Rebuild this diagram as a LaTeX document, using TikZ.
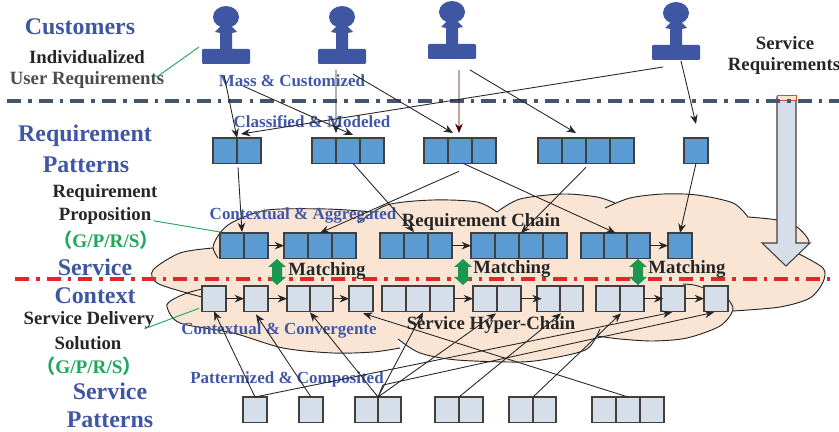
\documentclass[tikz,border=0pt]{standalone}
\usepackage{fontspec}
\setmainfont{Liberation Serif}
\newfontfamily\cjk{Noto Sans CJK SC}
\usepackage{xcolor}
\usetikzlibrary{arrows.meta,positioning}

\definecolor{titleblue}{HTML}{3F56A3}
\definecolor{phaseblue}{HTML}{4058A8}
\definecolor{labelgreen}{HTML}{1FA85A}
\definecolor{cloudfill}{HTML}{FAE5D5}
\definecolor{reqblue}{HTML}{5B9BD3}
\definecolor{svcgrey}{HTML}{D5DEE9}
\definecolor{slateline}{HTML}{44566E}
\definecolor{redline}{HTML}{E3262A}

\newcommand{\lobeA}{(218,258)(213,247)(220,233)(233,222)(267,210)(327,209)(373,212)}
\newcommand{\lobeB}{(358,223)(387,205)(433,200)(477,202)(497,212)}
\newcommand{\lobeC}{(497,212)(520,199)(563,194)(597,197)(615,203)}
\newcommand{\lobeD}{(605,208)(630,198)(663,194)(697,195)(733,203)(748,217)}
\newcommand{\lobeE}{(748,217)(777,220)(797,227)(809,242)(797,253)}
\newcommand{\lobeF}{(797,253)(823,268)(823,282)(810,298)(780,307)(733,311)}
\newcommand{\lobeG}{(728,299)(733,310)(720,326)(687,338)(653,341)(620,339)(597,336)}
\newcommand{\lobeH}{(600,329)(587,349)(553,358)(520,362)(457,360)(420,353)(398,339)}
\newcommand{\lobeI}{(400,348)(373,352)(333,353)(283,348)(233,333)(180,323)(167,307)(172,300)(187,293)(202,289)}
\newcommand{\lobeJ}{(202,297)(187,293)(157,283)(153,270)(180,253)(213,248)}

\begin{document}
\begin{tikzpicture}[
    x=0.03cm,
    y=-0.03cm,
    >={Stealth[length=8pt,width=6.5pt]},
    title/.style={font=\fontsize{20.4}{22}\selectfont\bfseries,text=titleblue,inner sep=0pt},
    bold/.style={font=\fontsize{16}{18}\selectfont\bfseries,text=black!85,inner sep=0pt},
    phase/.style={font=\fontsize{14.5}{16}\selectfont\bfseries,text=phaseblue,inner sep=0pt},
    gps/.style={font=\fontsize{16.4}{18}\selectfont\bfseries,text=labelgreen,inner sep=0pt},
    cell/.style={rectangle,draw=black!75,line width=0.9pt,minimum width=0.72cm,minimum height=0.76cm,inner sep=0pt,outer sep=0pt},
    req/.style={cell,fill=reqblue},
    svc/.style={cell,fill=svcgrey},
    narrow/.style={minimum width=0.69cm},
    link/.style={->,line width=0.75pt,black!85},
    leader/.style={line width=0.8pt,labelgreen},
    divider/.style={dash pattern=on 12pt off 6pt on 3pt off 6pt},
    lobe/.style={line width=0.8pt,black!85},
    matcharrow/.pic={
        \fill[labelgreen!90!black] (0,-13) -- (9,-5) -- (5,-5) -- (5,5) -- (9,5) -- (0,13) -- (-9,5) -- (-5,5) -- (-5,-5) -- (-9,-5) -- cycle;
    },
    customer/.pic={
        \fill[titleblue] (0,0) ellipse [x radius=0.39cm,y radius=0.33cm];
        \fill[titleblue] (-5,9) -- (-11,15) -- (-6,16) -- (-6,33) -- (6,33) -- (6,16) -- (11,15) -- (5,9) -- cycle;
        \fill[titleblue,rounded corners=1pt] (-24,32) rectangle (24,47);
    }
]
\useasboundingbox (0,0) rectangle (839,432);

% Cloud
\fill[cloudfill] plot[smooth] coordinates {\lobeA} -- plot[smooth] coordinates {\lobeB}
  -- plot[smooth] coordinates {\lobeC} -- plot[smooth] coordinates {\lobeD}
  -- plot[smooth] coordinates {\lobeE} -- plot[smooth] coordinates {\lobeF}
  -- plot[smooth] coordinates {\lobeG} -- plot[smooth] coordinates {\lobeH}
  -- plot[smooth] coordinates {\lobeI} -- plot[smooth] coordinates {\lobeJ} -- cycle;
\draw[lobe] plot[smooth] coordinates {\lobeA};
\draw[lobe] plot[smooth] coordinates {\lobeB};
\draw[lobe] plot[smooth] coordinates {\lobeC};
\draw[lobe] plot[smooth] coordinates {\lobeD};
\draw[lobe] plot[smooth] coordinates {\lobeE};
\draw[lobe] plot[smooth] coordinates {\lobeF};
\draw[lobe] plot[smooth] coordinates {\lobeG};
\draw[lobe] plot[smooth] coordinates {\lobeH};
\draw[lobe] plot[smooth] coordinates {\lobeI};
\draw[lobe] plot[smooth] coordinates {\lobeJ};
\draw[lobe] plot[smooth] coordinates {(683,284)(694,285)(704,288)};

% Service requirements arrow
\draw[draw=black!75,line width=0.9pt,fill=svcgrey] (777,97) -- (796,97) -- (796,243) -- (810,243)
  -- (786,266) -- (762,243) -- (777,243) -- cycle;
\draw[draw=red!40!brown,line width=0.7pt,fill=cloudfill] (777,95) rectangle (796,100);

% Dividers
\draw[divider,slateline,line width=2.8pt] (7,101) -- (839,101);
\draw[divider,redline,line width=3pt] (15,279) -- (837,279);

% Customers
\coordinate (cust1) at (226,17);
\coordinate (cust2) at (342,17);
\coordinate (cust3) at (452,12);
\coordinate (cust4) at (676,13);
\pic at (cust1) {customer};
\pic at (cust2) {customer};
\pic at (cust3) {customer};
\pic at (cust4) {customer};

% Requirement patterns
\node[req,anchor=north west] (r1a) at (213,138) {};
\node[req,right=0pt of r1a] (r1b) {};
\node[req,anchor=north west] (r2a) at (312,138) {};
\node[req,right=0pt of r2a] (r2b) {};
\node[req,right=0pt of r2b] (r2c) {};
\node[req,anchor=north west] (r3a) at (424,138) {};
\node[req,right=0pt of r3a] (r3b) {};
\node[req,right=0pt of r3b] (r3c) {};
\node[req,anchor=north west] (r4a) at (538,138) {};
\node[req,right=0pt of r4a] (r4b) {};
\node[req,right=0pt of r4b] (r4c) {};
\node[req,right=0pt of r4c] (r4d) {};
\node[req,anchor=north west] (r5a) at (684,138) {};

% Requirement chain
\node[req,anchor=north west] (c1a) at (220,233) {};
\node[req,right=0pt of c1a] (c1b) {};
\node[req,anchor=north west] (c2a) at (284,233) {};
\node[req,right=0pt of c2a] (c2b) {};
\node[req,right=0pt of c2b] (c2c) {};
\node[req,anchor=north west] (c3a) at (380,233) {};
\node[req,right=0pt of c3a] (c3b) {};
\node[req,right=0pt of c3b] (c3c) {};
\node[req,anchor=north west] (c4a) at (471,233) {};
\node[req,right=0pt of c4a] (c4b) {};
\node[req,right=0pt of c4b] (c4c) {};
\node[req,right=0pt of c4c] (c4d) {};
\node[req,narrow,anchor=north west] (c5a) at (581,233) {};
\node[req,narrow,right=0pt of c5a] (c5b) {};
\node[req,narrow,right=0pt of c5b] (c5c) {};
\node[req,anchor=north west] (c6a) at (668,233) {};

% Service hyper-chain
\node[svc,anchor=north west] (h1a) at (202,286) {};
\node[svc,anchor=north west] (h2a) at (244,286) {};
\node[svc,narrow,anchor=north west] (h3a) at (287,286) {};
\node[svc,narrow,right=0pt of h3a] (h3b) {};
\node[svc,anchor=north west] (h4a) at (349,286) {};
\node[svc,anchor=north west] (h5a) at (382,286) {};
\node[svc,right=0pt of h5a] (h5b) {};
\node[svc,right=0pt of h5b] (h5c) {};
\node[svc,anchor=north west] (h6a) at (473,286) {};
\node[svc,right=0pt of h6a] (h6b) {};
\node[svc,narrow,anchor=north west] (h7a) at (537,286) {};
\node[svc,narrow,right=0pt of h7a] (h7b) {};
\node[svc,anchor=north west] (h8a) at (596,286) {};
\node[svc,right=0pt of h8a] (h8b) {};
\node[svc,anchor=north west] (h9a) at (661,286) {};
\node[svc,anchor=north west] (h10a) at (704,286) {};

% Service patterns
\node[svc,anchor=north west] (p1a) at (243,397) {};
\node[svc,anchor=north west] (p2a) at (299,397) {};
\node[svc,narrow,anchor=north west] (p3a) at (355,397) {};
\node[svc,narrow,right=0pt of p3a] (p3b) {};
\node[svc,anchor=north west] (p4a) at (435,397) {};
\node[svc,right=0pt of p4a] (p4b) {};
\node[svc,anchor=north west] (p5a) at (509,397) {};
\node[svc,narrow,right=0pt of p5a] (p5b) {};
\node[svc,anchor=north west] (p6a) at (592,397) {};
\node[svc,right=0pt of p6a] (p6b) {};
\node[svc,right=0pt of p6b] (p6c) {};

% Matching
\pic at (277,272) {matcharrow};
\pic at (463,272) {matcharrow};
\pic at (638,272) {matcharrow};

% Left column labels
\node[title] (custlabel) at (80,27) {Customers};
\node[bold] (indlabel) at (87,57) {Individualized};
\node[bold,text=black!70] (userlabel) at (87,80) {User Requirements};
\node[title] (reqlabel) at (85,136) {Requirement};
\node[title] (patlabel) at (86,165) {Patterns};
\node[bold] (proplabel) at (105,193) {Requirement};
\node[bold] (proplabelb) at (105,216) {Proposition};
\node[gps] (gpsup) at (106,240) {{\cjk（}G/P/R/S{\cjk）}};
\node[title] (ctxlabel) at (95,267) {Service};
\node[title] (ctxlabelb) at (95,296) {Context};
\node[bold] (dellabel) at (89,320) {Service Delivery};
\node[bold] (dellabelb) at (88,343) {Solution};
\node[gps] (gpsdown) at (89,366) {{\cjk（}G/P/R/S{\cjk）}};
\node[title] (svclabel) at (110,391) {Service};
\node[title] (svclabelb) at (110,420) {Patterns};
\node[bold] (srvreq) at (785,43) {Service};
\node[bold] (srvreqb) at (784,66) {Requirements};

% Phases
\node[phase] (massphase) at (292,81) {Mass \& Customized};
\node[phase] (classphase) at (312,122) {Classified \& Modeled};
\node[phase] (aggphase) at (303,215) {Contextual \& Aggregated};
\node[phase] (convphase) at (279,330) {Contextual \& Convergente};
\node[phase] (compphase) at (287,379) {Patternized \& Composited};
\node[bold] (reqchain) at (481,222) {Requirement Chain};
\node[bold] (hyperchain) at (491,325) {Service Hyper-Chain};
\node[bold] (matchlabela) at (327,271) {Matching};
\node[bold] (matchlabelb) at (512,269) {Matching};
\node[bold] (matchlabelc) at (687,269) {Matching};

% Leaders
\draw[leader] ([shift={(-8,6)}]userlabel.north east) -- ([shift={(-27,30)}]cust1);
\draw[leader] ([shift={(2,-4)}]proplabelb.south east) -- ([shift={(0,-1)}]c1a.north west);
\draw[leader] ([shift={(-10,0)}]dellabel.south east) -- ([shift={(-3,-3)}]h1a.south west);

% Customers to requirement patterns
\draw[link] ([shift={(-2,58)}]cust1) -- (r1b.north west);
\draw[link] ([shift={(17,69)}]cust1) -- ([shift={(-7,-3)}]r2b.north east);
\draw[link] ([shift={(-6,53)}]cust2) -- ([shift={(0,-5)}]r2b.north west);
\draw[link] ([shift={(11,57)}]cust2) -- ([shift={(5,-5)}]r3b.north west);
\draw[link,red!30!black] ([shift={(7,58)}]cust3) -- ([shift={(-1,-5)}]r3b.north);
\draw[link] ([shift={(18,58)}]cust3) -- ([shift={(2,-5)}]r4b.north);
\draw[link] ([shift={(-13,54)}]cust4) -- ([shift={(4,-4)}]r1b.north west);
\draw[link] ([shift={(5,48)}]cust4) -- ([shift={(0,-14)}]r5a.north);

% Requirement patterns to chain
\draw[link] ([shift={(1,4)}]r1b.south west) -- ([shift={(-2,-1)}]c1b.north west);
\draw[link] ([shift={(-7,0)}]r2b.south east) -- ([shift={(-2,-1)}]c3b.north);
\draw[link] ([shift={(-1,8)}]r3b.south) -- (c2b.north);
\draw[link] ([shift={(3,0)}]r3b.south) -- (c5b.north);
\draw[link] ([shift={(0,4)}]r4c.south west) -- ([shift={(2,0)}]c4c.north west);
\draw[link] (r5a.south) -- (c6a.north);

% Chain
\draw[link] (c1b.east) -- (c2a.west);
\draw[link] (c3c.east) -- (c4a.west);
\draw[link] (c5c.east) -- (c6a.west);

% Hyper-chain
\draw[link] (h1a.east) -- (h2a.west);
\draw[link] (h2a.east) -- (h3a.west);
\draw[link] (h3b.east) -- (h4a.west);
\draw[link] (h5c.east) -- (h6a.west);
\draw[link] (h6b.east) -- ([xshift=4pt]h7a.west);
\draw[link] (h8b.east) -- ([xshift=2pt]h9a.west);
\draw[link] (h9a.east) -- (h10a.west);

% Service patterns to hyper-chain
\draw[link] (p1a.north) -- (h1a.south);
\draw[link] (p1a.north) -- ([shift={(-1,1)}]h9a.south);
\draw[link] (p2a.north) -- ([shift={(0,3)}]h2a.south);
\draw[link] (p3a.north east) -- ([shift={(0,1)}]h3a.south east);
\draw[link] (p3a.north east) -- ([shift={(-7,1)}]h5b.south east);
\draw[link] (p3a.north east) -- ([shift={(-1,2)}]h6a.south east);
\draw[link] (p3a.north east) -- (383,385) -- ([shift={(-2,1)}]h10a.south);
\draw[link] (p4a.north east) -- ([shift={(1,2)}]h7a.south east);
\draw[link] (p5a.north east) -- ([shift={(1,2)}]h8a.south east);
\draw[link] (p6b.north) -- ([shift={(2,2)}]h4a.south);

\end{tikzpicture}
\end{document}
